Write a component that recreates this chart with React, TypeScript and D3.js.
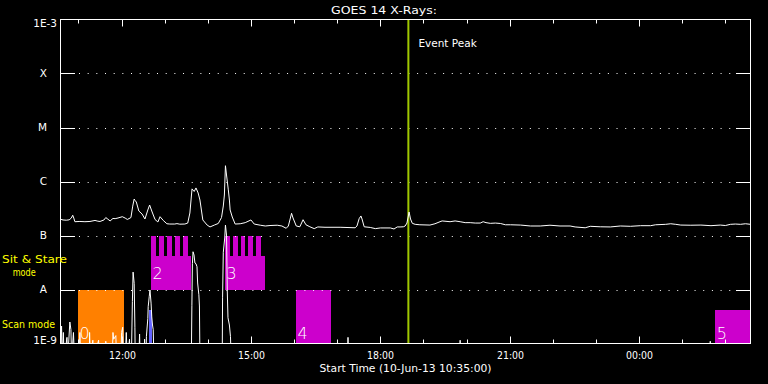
import React from "react";
import * as d3 from "d3";

// ---- data ----
const START_MS = Date.UTC(2013, 5, 10, 10, 35, 0);
const SPAN_MIN = 960;
const EVENT_PEAK_MIN = 484;

// 1-8 Angstrom channel: [minutes since start, flux W/m^2]
const longChannel: [number, number][] = [
  [0, 2.0e-7], [3.5, 1.94e-7], [8, 1.92e-7], [12, 1.95e-7], [15, 2.1e-7], [17, 2.37e-7], [18.5, 2.1e-7],
  [20, 1.8e-7], [27, 1.82e-7], [34, 1.8e-7], [41, 1.82e-7], [48, 1.9e-7], [52, 1.84e-7], [55, 1.82e-7],
  [60.5, 1.94e-7], [63, 2.15e-7], [66, 2.0e-7], [69, 1.86e-7], [73, 2.07e-7], [76, 2.05e-7], [80, 2.11e-7],
  [86, 2.23e-7], [90, 2.1e-7], [93, 1.98e-7], [98, 2.15e-7], [100.5, 3.5e-7], [102.5, 4.74e-7], [104, 4.4e-7],
  [105.5, 4.17e-7], [109, 2.84e-7], [113.5, 2.5e-7], [117.5, 2.02e-7], [121.5, 2.97e-7], [124, 3.67e-7],
  [127, 2.84e-7], [131.5, 1.98e-7], [135.5, 1.78e-7], [138.5, 2.23e-7], [143, 1.9e-7], [148, 1.65e-7],
  [152, 1.63e-7], [159, 1.63e-7], [162, 1.66e-7], [166, 1.62e-7], [173, 1.63e-7], [177, 1.7e-7],
  [180, 2.61e-7], [183, 7.3e-7], [186, 6.53e-7], [188.5, 7.6e-7], [191.5, 6.12e-7], [194, 4.54e-7],
  [198, 1.94e-7], [204, 1.56e-7], [208, 1.44e-7], [214, 1.56e-7], [219.5, 1.67e-7], [224, 2.15e-7],
  [226.5, 3.52e-7], [228, 5.62e-7], [229.5, 1.96e-6], [231, 1.32e-6], [233.5, 7.0e-7], [235, 4.54e-7],
  [236, 2.97e-7], [239, 2.2e-7], [243, 1.63e-7], [250, 1.65e-7], [257, 1.73e-7], [265, 1.94e-7],
  [269.5, 1.63e-7], [278, 1.55e-7], [285, 1.5e-7], [291.5, 1.53e-7], [301.5, 1.55e-7], [308, 1.5e-7],
  [314, 1.36e-7], [317, 1.5e-7], [319.5, 2.02e-7], [321.5, 2.58e-7], [323.5, 2.11e-7], [328, 1.5e-7],
  [333, 1.45e-7], [337.5, 1.96e-7], [341.5, 1.58e-7], [347, 1.45e-7], [353, 1.34e-7], [358, 1.44e-7],
  [368, 1.42e-7], [389, 1.42e-7], [410, 1.39e-7], [412.5, 1.5e-7], [415.5, 2.05e-7], [418, 2.3e-7],
  [419.5, 2.02e-7], [422.5, 1.45e-7], [431, 1.41e-7], [438, 1.34e-7], [445, 1.38e-7], [459, 1.38e-7],
  [464, 1.32e-7], [468.5, 1.44e-7], [472.5, 1.44e-7], [477, 1.45e-7], [479.5, 1.5e-7], [482, 1.7e-7],
  [485, 2.72e-7], [487, 2.02e-7], [489.5, 1.68e-7], [493.5, 1.61e-7], [500, 1.58e-7], [514, 1.56e-7],
  [521, 1.65e-7], [528, 1.8e-7], [531, 1.86e-7], [542, 1.8e-7], [549, 1.86e-7], [556, 1.8e-7],
  [563, 1.73e-7], [570, 1.73e-7], [577, 1.7e-7], [584, 1.7e-7], [588, 1.8e-7], [592, 1.73e-7],
  [598, 1.68e-7], [605, 1.7e-7], [612, 1.67e-7], [619, 1.58e-7], [626, 1.58e-7], [640, 1.56e-7],
  [654, 1.5e-7], [667.5, 1.5e-7], [681, 1.55e-7], [695, 1.5e-7], [709, 1.5e-7], [716, 1.44e-7],
  [730, 1.39e-7], [737, 1.48e-7], [751, 1.45e-7], [765, 1.44e-7], [779, 1.5e-7], [793, 1.48e-7],
  [807, 1.52e-7], [821, 1.52e-7], [828, 1.58e-7], [842, 1.61e-7], [849, 1.65e-7], [856, 1.61e-7],
  [863, 1.56e-7], [877, 1.55e-7], [891, 1.56e-7], [905, 1.52e-7], [918, 1.56e-7], [925, 1.53e-7],
  [932, 1.61e-7], [939, 1.63e-7], [946, 1.61e-7], [953, 1.65e-7], [960, 1.61e-7],
];

// 0.5-4 Angstrom channel (values below 1E-9 are clipped)
const shortChannel: [number, number][] = [
  [0, 5e-10], [1.5, 2.1e-9], [2.5, 5e-10], [4, 1.6e-9], [5, 5e-10], [9, 1.3e-9], [10, 5e-10],
  [13, 2.5e-9], [14.5, 1.8e-9], [15.5, 5e-10], [18, 1.6e-9], [19.5, 5e-10], [26, 5e-10], [27, 1.6e-9],
  [28, 5e-10], [40, 5e-10], [40.5, 1.6e-9], [41.5, 5e-10], [45, 1.15e-9], [46, 5e-10], [53, 1.15e-9],
  [54, 5e-10], [62, 5e-10], [63, 1.1e-9], [65, 5e-10], [72, 5e-10], [73, 1.6e-9], [74, 1.2e-9],
  [77, 1.4e-9], [78, 5e-10], [84, 5e-10], [85, 1.6e-9], [86.5, 2.0e-9], [87.5, 5e-10], [90, 5e-10],
  [91.5, 1.6e-9], [93, 5e-10], [96, 1.2e-9], [97, 5e-10], [99, 1e-9], [100, 6e-9], [101, 2.1e-8],
  [102.5, 1.3e-8], [103.5, 2e-9], [104, 5e-10], [109, 5e-10], [110, 1.5e-9], [111, 5e-10],
  [116, 5e-10], [117, 1.2e-9], [118, 5e-10], [119, 5e-10], [119.5, 1.34e-9], [121.5, 2.9e-9],
  [122, 4.8e-9], [123.5, 7.5e-9], [124.5, 9.8e-9], [126, 5.6e-9], [127, 3.1e-9], [128, 2.2e-9],
  [129, 1.8e-9], [130, 5e-10], [182, 5e-10], [182.8, 5e-9], [183.5, 3e-8], [184.4, 5.0e-8],
  [185.8, 4.35e-8], [187, 3.1e-8], [188.5, 3.0e-8], [189.9, 2.64e-8], [190.8, 1.32e-8], [192.5, 8e-9],
  [193.3, 4.95e-9], [194, 5e-10], [225, 5e-10], [225.5, 7e-9], [226.5, 4.9e-8], [228.5, 9e-8],
  [229.5, 1.56e-7], [231, 1.02e-7], [232, 9.8e-9], [233, 3.0e-9], [235, 2.2e-9], [236.5, 1.34e-9],
  [237.5, 5e-10], [399, 5e-10], [400, 1.3e-9], [401, 5e-10], [555, 5e-10], [556, 1.15e-9],
  [557, 5e-10], [903, 5e-10], [904, 1.1e-9], [905, 5e-10], [960, 5e-10],
];

const yTickFlux = [1e-9, 1e-8, 1e-7, 1e-6, 1e-5, 1e-4, 1e-3];
const yTickLabels = ["1E-9", "A", "B", "C", "M", "X", "1E-3"];

// observing blocks: id, mode, start/end minutes, flux bounds
const blockIds = ["0", "1", "2", "3", "4", "5"];
const blockModes = ["scan", "blue", "sit", "sit", "sit", "sit"];
const blockStart = [24.4, 123.2, 126, 229, 327.8, 911];
const blockEnd = [88.4, 126.7, 181, 284.7, 376.6, 960];
const blockLow = [1e-9, 1e-9, 1e-8, 1e-8, 1e-9, 1e-9];
const blockHigh = [1e-8, 4.17e-9, 4.17e-8, 4.17e-8, 1e-8, 4.17e-9];
const blockShowLabel = [true, false, true, true, true, true];

// comb pointings above blocks 2 and 3
const combStarts2 = [126, 137.1, 148.3, 159.4, 170.5];
const combStarts3 = [229, 240.6, 250.8, 261.4, 272.1];
const combDur = 6.5;
const combLow = 4.17e-8;
const combHigh = 1e-7;

const modeColor: Record<string, string> = { scan: "#ff8000", blue: "#6464ff", sit: "#cc00cc" };

const W = 768;
const H = 384;
const L = 60.5, R = 750.5, T = 19.5, B = 343.5;

export default function App() {
  const toDate = (m: number) => new Date(START_MS + m * 60000);
  const x = d3.scaleUtc().domain([toDate(0), toDate(SPAN_MIN)]).range([L, R]);
  const y = d3.scaleLog().domain([1e-9, 1e-3]).range([B, T]);

  const line = d3
    .line<[number, number]>()
    .x((d) => x(toDate(d[0])))
    .y((d) => y(d[1]));

  const hourTicks = x.ticks(d3.utcHour.every(1)!);
  const fmt = d3.utcFormat("%H:%M");
  const font = "DejaVu Sans, Verdana, sans-serif";

  const eventX = x(toDate(EVENT_PEAK_MIN));

  return (
    <svg width={W} height={H} style={{ position: "absolute", left: 0, top: 0, background: "#000" }}>
      <rect x={0} y={0} width={W} height={H} fill="#000" />
      <defs>
        <clipPath id="plot">
          <rect x={L} y={T} width={R - L} height={B - T + 0.5} />
        </clipPath>
      </defs>

      {/* blocks */}
      <g clipPath="url(#plot)" shapeRendering="crispEdges">
        {blockIds.map((id, i) => {
          const x0 = x(toDate(blockStart[i]));
          const x1 = x(toDate(blockEnd[i]));
          const y0 = y(blockHigh[i]);
          const y1 = y(blockLow[i]);
          return (
            <rect key={id} x={x0} y={y0} width={x1 - x0} height={y1 - y0} fill={modeColor[blockModes[i]]} />
          );
        })}
        {[...combStarts2, ...combStarts3].map((s, i) => {
          const x0 = x(toDate(s));
          const x1 = x(toDate(s + combDur));
          return (
            <rect key={"c" + i} x={x0} y={y(combHigh)} width={x1 - x0} height={y(combLow) - y(combHigh)} fill={modeColor.sit} />
          );
        })}
      </g>
      <g clipPath="url(#plot)">
        {blockIds.map((id, i) => {
          if (!blockShowLabel[i]) return null;
          const x0 = x(toDate(blockStart[i]));
          const yb = blockLow[i] >= 1e-8 ? y(blockLow[i]) - 11 : y(blockLow[i]) - 5;
          return (
            <text key={"l" + id} x={x0 + 1.5} y={yb} fill="#fff" fontFamily={font} fontSize={16} fontWeight={200}>
              {id}
            </text>
          );
        })}
      </g>

      {/* grid lines & y ticks */}
      {yTickFlux.map((f, i) => {
        if (i === 0 || i === yTickFlux.length - 1) return null;
        const yy = Math.round(y(f)) + 0.5;
        return (
          <g key={"g" + i}>
            <line x1={L} x2={75} y1={yy} y2={yy} stroke="#fff" />
            <line x1={79} x2={735} y1={yy} y2={yy} stroke="#fff" strokeDasharray="1 7.67" />
            <line x1={736} x2={R} y1={yy} y2={yy} stroke="#fff" />
          </g>
        );
      })}

      {/* event peak */}
      <line x1={eventX} x2={eventX} y1={T} y2={B} stroke="#a0c800" strokeWidth={2} />
      <text x={eventX + 10} y={47} fill="#fff" fontFamily={font} fontSize={10.5}>Event Peak</text>

      {/* data */}
      <g clipPath="url(#plot)">
        <path d={line(shortChannel) || ""} fill="none" stroke="#fff" strokeWidth={1} />
        <path d={line(longChannel) || ""} fill="none" stroke="#fff" strokeWidth={1} />
      </g>

      {/* frame */}
      <rect x={L} y={T} width={R - L} height={B - T} fill="none" stroke="#fff" />

      {/* x ticks */}
      {hourTicks.map((t, i) => {
        const xx = Math.round(x(t)) + 0.5;
        const major = t.getUTCHours() % 3 === 0;
        const len = major ? 7 : 4;
        return (
          <g key={"t" + i}>
            <line x1={xx} x2={xx} y1={B} y2={B - len} stroke="#fff" />
            <line x1={xx} x2={xx} y1={T} y2={T + len} stroke="#fff" />
            {major && (
              <text x={xx} y={359} fill="#fff" fontFamily={font} fontSize={10.5} textAnchor="middle" textLength={27} lengthAdjust="spacingAndGlyphs">
                {fmt(t)}
              </text>
            )}
          </g>
        );
      })}

      {/* y labels */}
      {yTickFlux.map((f, i) => {
        const isEdge = yTickLabels[i].length > 1;
        let yb = y(f) + 3.8;
        if (i === 0) yb = y(f) + 0.5;
        if (i === yTickFlux.length - 1) yb = y(f) + 7.2;
        return (
          <text key={"yl" + i} x={isEdge ? 57 : 47} y={yb} fill="#fff" fontFamily={font} fontSize={10.5} textAnchor="end">
            {yTickLabels[i]}
          </text>
        );
      })}

      {/* titles */}
      <text x={384} y={14} fill="#fff" fontFamily={font} fontSize={11} textAnchor="middle" textLength={106} lengthAdjust="spacingAndGlyphs">GOES 14 X-Rays:</text>
      <text x={(L + R) / 2} y={372} fill="#fff" fontFamily={font} fontSize={11} textAnchor="middle" textLength={172} lengthAdjust="spacingAndGlyphs">
        Start Time (10-Jun-13 10:35:00)
      </text>
      <text x={2} y={262.5} fill="#ffff00" fontFamily={font} fontSize={10.5} textLength={65} lengthAdjust="spacingAndGlyphs">Sit &amp; Stare</text>
      <text x={12.7} y={275.5} fill="#ffff00" fontFamily={font} fontSize={10.5} textLength={23} lengthAdjust="spacingAndGlyphs">mode</text>
      <text x={2} y={328} fill="#ffff00" fontFamily={font} fontSize={11} textLength={53} lengthAdjust="spacingAndGlyphs">Scan mode</text>
    </svg>
  );
}
